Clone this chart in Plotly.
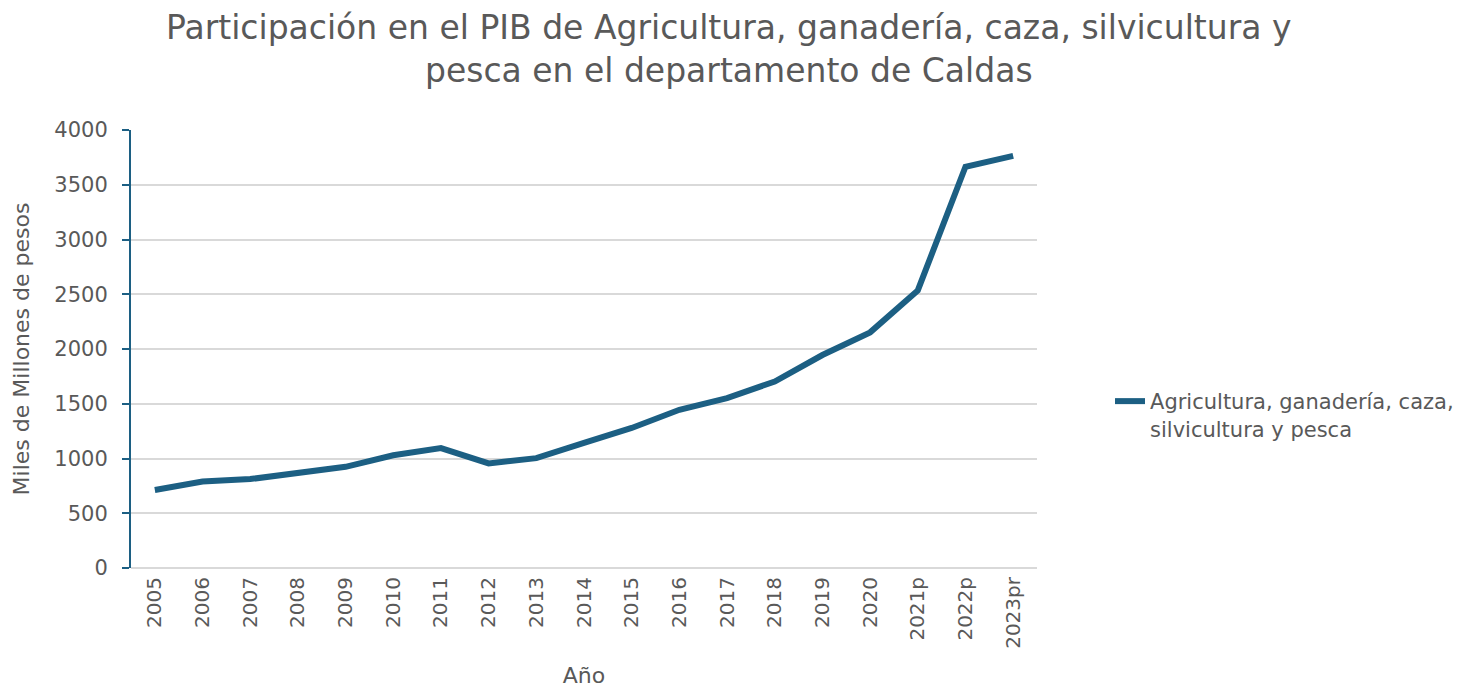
import plotly.graph_objects as go

years = ["2005", "2006", "2007", "2008", "2009", "2010", "2011", "2012", "2013", "2014",
         "2015", "2016", "2017", "2018", "2019", "2020", "2021p", "2022p", "2023pr"]
values = [712, 789, 812, 864, 924, 1030, 1095, 955, 1003, 1143,
          1279, 1445, 1552, 1703, 1945, 2152, 2535, 3664, 3764]
series_name = "Agricultura, ganadería, caza,<br>silvicultura y pesca"
y_ticks = [0, 500, 1000, 1500, 2000, 2500, 3000, 3500, 4000]

line_color = "#1C5F83"
text_color = "#595959"
grid_color = "#D9D9D9"
font_family = "DejaVu Sans"

fig = go.Figure()
fig.add_trace(go.Scatter(
    x=years, y=values, mode="lines", name=series_name,
    line=dict(color=line_color, width=6),
    showlegend=True,
))

fig.update_layout(
    width=1462, height=680,
    paper_bgcolor="white", plot_bgcolor="white",
    margin=dict(l=123, r=433, t=122, b=120, autoexpand=False),
    title=dict(
        text="Participación en el PIB de Agricultura, ganadería, caza, silvicultura y<br>pesca en el departamento de Caldas",
        x=0.493, xanchor="center", y=0.955, yanchor="middle",
        font=dict(family=font_family, size=33, color=text_color),
    ),
    showlegend=True,
    legend=dict(
        x=1.0806, y=0.427, xanchor="left", yanchor="top",
        valign="top",
        font=dict(family=font_family, size=21, color=text_color),
        bgcolor="rgba(0,0,0,0)",
    ),
    font=dict(family=font_family, color=text_color),
)

fig.update_xaxes(
    type="category",
    range=[-0.5, len(years) - 0.5],
    tickangle=-90,
    tickfont=dict(family=font_family, size=20, color=text_color),
    ticklabelstandoff=4,
    showgrid=False, showline=False, ticks="",
    automargin=False,
    title=dict(text="Año", font=dict(family=font_family, size=22, color=text_color), standoff=30),
)

fig.update_yaxes(
    range=[0, 4000],
    tickvals=y_ticks,
    ticktext=[str(v) for v in y_ticks],
    tickfont=dict(family=font_family, size=21, color=text_color),
    ticklabelstandoff=10,
    showgrid=True, gridcolor=grid_color, gridwidth=2,
    zeroline=True, zerolinecolor=grid_color, zerolinewidth=2,
    showline=True, linecolor=line_color, linewidth=2,
    ticks="outside", tickcolor=line_color, ticklen=7, tickwidth=2,
    automargin=False,
    title=dict(text="Miles de Millones de pesos", font=dict(family=font_family, size=22, color=text_color), standoff=19),
)

fig.write_html("out.html")
